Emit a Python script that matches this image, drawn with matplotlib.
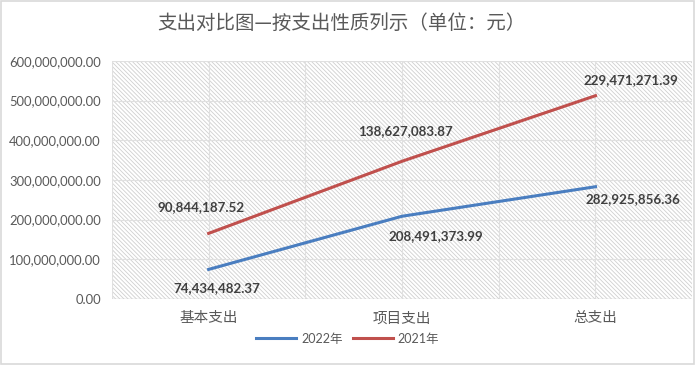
import numpy as np
import matplotlib.pyplot as plt
from matplotlib.ticker import FuncFormatter, MultipleLocator

plt.rcParams['font.family'] = ['Lato', 'Noto Sans CJK SC', 'DejaVu Sans']
plt.rcParams['hatch.color'] = '#cfcfcf'
plt.rcParams['hatch.linewidth'] = 0.6

# data (stacked line chart: 2021 is drawn on top of 2022)
categories = ['基本支出', '项目支出', '总支出']
series_names = ['2022年', '2021年']
values_2022 = [74434482.37, 208491373.99, 282925856.36]
values_2021 = [90844187.52, 138627083.87, 229471271.39]

colors = ['#4A7EC0', '#C0504D']
# label offsets in pixels (dx, dy)
off_2022 = [(8, -19), (34, -20), (37, -12)]
off_2021 = [(-8, 26), (3, 30), (35, 16)]

fig = plt.figure(figsize=(6.95, 3.65), dpi=100)
ax = fig.add_axes([0.161, 0.181, 0.835, 0.652])

x = np.arange(len(categories))
y1 = np.array(values_2022)
y2 = y1 + np.array(values_2021)

ax.set_xlim(-0.5, 2.5)
ax.set_ylim(0, 600000000)

# hatched plot area
ax.add_patch(plt.Rectangle((0, 0), 1, 1, transform=ax.transAxes, facecolor='white',
                           hatch='\\' * 8, edgecolor='#cfcfcf', linewidth=0, zorder=0))

ax.yaxis.set_major_locator(MultipleLocator(100000000))
ax.yaxis.set_major_formatter(FuncFormatter(lambda v, p: f'{v:,.2f}'))
ax.set_xticks(x)
ax.set_xticklabels(categories)
ax.set_xticks(np.arange(-0.5, 2.6, 1.0), minor=True)
ax.grid(True, which='major', color='#e0e0e0', linewidth=0.8, zorder=1)
ax.grid(True, which='minor', axis='x', color='#e0e0e0', linewidth=0.8, zorder=1)
ax.tick_params(which='both', length=0)
ax.tick_params(axis='y', labelsize=9.4, labelcolor='#595959', pad=8)
ax.tick_params(axis='x', labelsize=10.5, labelcolor='#595959', pad=9)
for lab in ax.get_xticklabels():
    lab.set_family(['Noto Sans CJK SC'])
for s in ax.spines.values():
    s.set_visible(False)
ax.axhline(0, color='#d0d0d0', linewidth=1, zorder=2)

ax.plot(x, y1, color=colors[0], linewidth=2.2, label=series_names[0], zorder=3)
ax.plot(x, y2, color=colors[1], linewidth=2.2, label=series_names[1], zorder=3)

for i in range(len(categories)):
    ax.annotate(f'{values_2022[i]:,.2f}', (x[i], y1[i]), xytext=off_2022[i],
                textcoords='offset pixels', ha='center', va='center',
                fontsize=9.6, fontweight='bold', color='#404040', zorder=4)
    ax.annotate(f'{values_2021[i]:,.2f}', (x[i], y2[i]), xytext=off_2021[i],
                textcoords='offset pixels', ha='center', va='center',
                fontsize=9.6, fontweight='bold', color='#404040', zorder=4)

fig.text(0.492, 0.935, '支出对比图—按支出性质列示（单位：元）', ha='center', va='center',
         fontsize=14, fontweight='medium', color='#595959', family=['Noto Sans CJK SC'])

leg = fig.legend(loc='center', bbox_to_anchor=(0.5, 0.072), ncol=2, frameon=False,
                 fontsize=9, handlelength=3.2, columnspacing=0.8, handletextpad=0.4)
for t in leg.get_texts():
    t.set_color('#595959')

# outer border
fig.add_artist(plt.Rectangle((0.002, 0.003), 0.996, 0.994, transform=fig.transFigure,
                             fill=False, edgecolor='#d9d9d9', linewidth=1.2))

fig.savefig('out.png', dpi=100)
